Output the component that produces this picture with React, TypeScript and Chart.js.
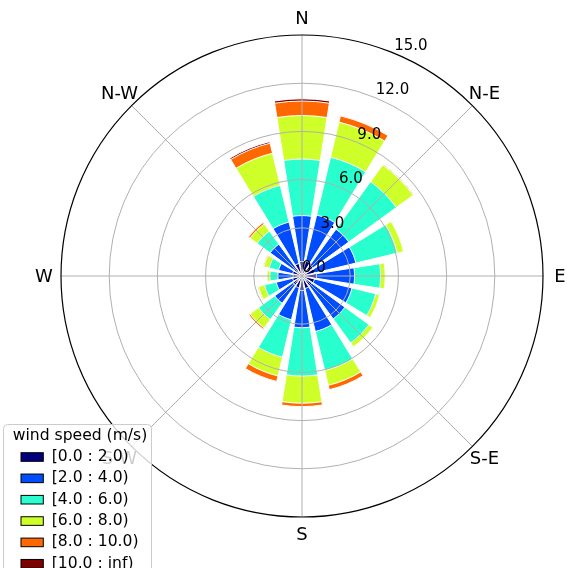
import React, { useEffect, useRef } from 'react';
import { Chart, registerables } from 'chart.js';

Chart.register(...registerables);

// ---- data ----
const directions = ['N', 'NNE', 'NE', 'ENE', 'E', 'ESE', 'SE', 'SSE', 'S', 'SSW', 'SW', 'WSW', 'W', 'WNW', 'NW', 'NNW'];
const speedBins = ['[0.0 : 2.0)', '[2.0 : 4.0)', '[4.0 : 6.0)', '[6.0 : 8.0)', '[8.0 : 10.0)', '[10.0 : inf)'];
const binColors = ['#00007f', '#004cff', '#29ffce', '#ceff29', '#ff6800', '#7f0000'];

// frequency (%) per direction for each speed bin
const speed0to2 = [0.9, 0.95, 0.85, 0.8, 0.9, 0.8, 0.75, 0.8, 0.9, 0.75, 0.7, 0.6, 0.55, 0.6, 0.65, 0.8];
const speed2to4 = [2.86, 2.95, 2.75, 2.65, 2.37, 2.4, 2.55, 2.75, 2.32, 2.05, 1.4, 1.05, 0.95, 0.9, 1.8, 2.65];
const speed4to6 = [3.52, 3.7, 3.66, 2.65, 1.62, 1.52, 1.85, 2.5, 3.01, 2.4, 1.25, 0.75, 0.5, 0.6, 1.0, 2.35];
const speed6to8 = [2.71, 2.25, 1.29, 0.4, 0.29, 0.25, 0.3, 0.95, 1.69, 1.2, 0.65, 0.4, 0.18, 0.35, 0.55, 2.06];
const speed8to10 = [0.9, 0.4, 0.05, 0, 0, 0, 0, 0.28, 0.21, 0.35, 0.1, 0.05, 0, 0.05, 0.12, 0.64];
const speed10up = [0.14, 0, 0, 0, 0, 0, 0, 0, 0, 0, 0, 0, 0, 0, 0, 0.1];

const compassLabels = ['N', 'N-E', 'E', 'S-E', 'S', 'S-W', 'W', 'N-W'];
const radialTicks = [0, 3, 6, 9, 12, 15];
const legendTitle = 'wind speed (m/s)';

const binSeries = [speed0to2, speed2to4, speed4to6, speed6to8, speed8to10, speed10up];

// ---- geometry / style ----
const sectorDeg = 360 / directions.length;
const opening = 0.8;
const barDeg = sectorDeg * opening;
const gapDeg = sectorDeg - barDeg;
const FONT = '"DejaVu Sans", "Liberation Sans", sans-serif';

function buildDatasets() {
  const cum = directions.map(() => 0);
  return binSeries.map((series, k) => {
    const data: number[] = [];
    series.forEach((v, i) => {
      cum[i] += v;
      data.push(cum[i]);
      data.push(0); // gap element between sectors
    });
    return {
      label: speedBins[k],
      data,
      angle: (c: any) => (c.dataIndex % 2 === 0 ? barDeg : gapDeg),
      backgroundColor: (c: any) => (c.dataIndex % 2 === 0 ? binColors[k] : 'rgba(0,0,0,0)'),
      borderColor: '#ffffff',
      borderWidth: (c: any) => (c.dataIndex % 2 === 0 ? 1 : 0),
    };
  });
}

const overlayPlugin = {
  id: 'windroseOverlay',
  afterDatasetsDraw(chart: any) {
    const s = chart.scales.r;
    const ctx = chart.ctx as CanvasRenderingContext2D;
    ctx.save();
    ctx.strokeStyle = '#b0b0b0';
    ctx.lineWidth = 1;
    compassLabels.forEach((_, i) => {
      const a = (i * 360) / compassLabels.length * Math.PI / 180;
      ctx.beginPath();
      ctx.moveTo(s.xCenter, s.yCenter);
      ctx.lineTo(s.xCenter + s.drawingArea * Math.sin(a), s.yCenter - s.drawingArea * Math.cos(a));
      ctx.stroke();
    });
    ctx.restore();
  },
  afterDraw(chart: any) {
    const s = chart.scales.r;
    const ctx = chart.ctx as CanvasRenderingContext2D;
    ctx.save();
    // radial tick labels along 22.5 deg
    const la = 22.5 * Math.PI / 180;
    ctx.fillStyle = '#000';
    ctx.font = `15px ${FONT}`;
    ctx.textAlign = 'left';
    ctx.textBaseline = 'bottom';
    s.ticks.forEach((t: any) => {
      const r = s.getDistanceFromCenterForValue(t.value);
      ctx.fillText(Number(t.value).toFixed(1), s.xCenter + r * Math.sin(la), s.yCenter - r * Math.cos(la));
    });
    // compass labels
    ctx.font = `18px ${FONT}`;
    ctx.textAlign = 'center';
    ctx.textBaseline = 'middle';
    const lr = s.drawingArea + 17;
    compassLabels.forEach((lab, i) => {
      const a = (i * 360) / compassLabels.length * Math.PI / 180;
      ctx.fillText(lab, s.xCenter + lr * Math.sin(a), s.yCenter - lr * Math.cos(a) + 1);
    });
    // legend
    const lx = 3.5, ly = 424.5, lw = 148, lh = 170, rad = 4;
    ctx.beginPath();
    ctx.moveTo(lx + rad, ly);
    ctx.lineTo(lx + lw - rad, ly);
    ctx.quadraticCurveTo(lx + lw, ly, lx + lw, ly + rad);
    ctx.lineTo(lx + lw, ly + lh);
    ctx.lineTo(lx, ly + lh);
    ctx.lineTo(lx, ly + rad);
    ctx.quadraticCurveTo(lx, ly, lx + rad, ly);
    ctx.closePath();
    ctx.fillStyle = 'rgba(255,255,255,0.8)';
    ctx.fill();
    ctx.strokeStyle = '#cccccc';
    ctx.lineWidth = 1;
    ctx.stroke();

    ctx.fillStyle = '#000';
    ctx.font = `15.6px ${FONT}`;
    ctx.textAlign = 'left';
    ctx.textBaseline = 'middle';
    ctx.fillText(legendTitle, 12.7, 436);
    speedBins.forEach((lab, k) => {
      const cy = 457 + k * 21.35;
      ctx.fillStyle = binColors[k];
      ctx.fillRect(21, cy - 4.3, 22.3, 8.6);
      ctx.strokeStyle = '#000';
      ctx.lineWidth = 1;
      ctx.strokeRect(21, cy - 4.3, 22.3, 8.6);
      ctx.fillStyle = '#000';
      ctx.fillText(lab, 51.7, cy);
    });
    ctx.restore();
  },
};

export default function App() {
  const ref = useRef<HTMLCanvasElement>(null);
  useEffect(() => {
    const canvas = ref.current;
    if (!canvas) return;
    const labels: string[] = [];
    directions.forEach((d) => {
      labels.push(d);
      labels.push('');
    });
    const chart = new Chart(canvas, {
      type: 'polarArea',
      data: { labels, datasets: buildDatasets() as any },
      options: {
        responsive: false,
        animation: false,
        devicePixelRatio: 1,
        events: [],
        layout: { padding: { left: 61, right: 24, top: 35, bottom: 51 } },
        plugins: { legend: { display: false }, tooltip: { enabled: false } },
        scales: {
          r: {
            min: radialTicks[0],
            max: radialTicks[radialTicks.length - 1],
            startAngle: -barDeg / 2,
            ticks: { stepSize: radialTicks[1] - radialTicks[0], display: false },
            grid: {
              circular: true,
              z: 1,
              color: (c: any) => (c.tick && c.tick.value === radialTicks[radialTicks.length - 1] ? '#000000' : '#b0b0b0'),
              lineWidth: (c: any) => (c.tick && c.tick.value === radialTicks[radialTicks.length - 1] ? 1.2 : 1),
            },
            angleLines: { display: false },
            pointLabels: { display: false },
          } as any,
        },
      } as any,
      plugins: [overlayPlugin as any],
    });
    return () => chart.destroy();
  }, []);
  return (
    <div style={{ position: 'absolute', left: 0, top: 0, width: 567, height: 568, background: '#ffffff' }}>
      <canvas ref={ref} width={567} height={568} style={{ display: 'block', width: 567, height: 568 }} />
    </div>
  );
}
